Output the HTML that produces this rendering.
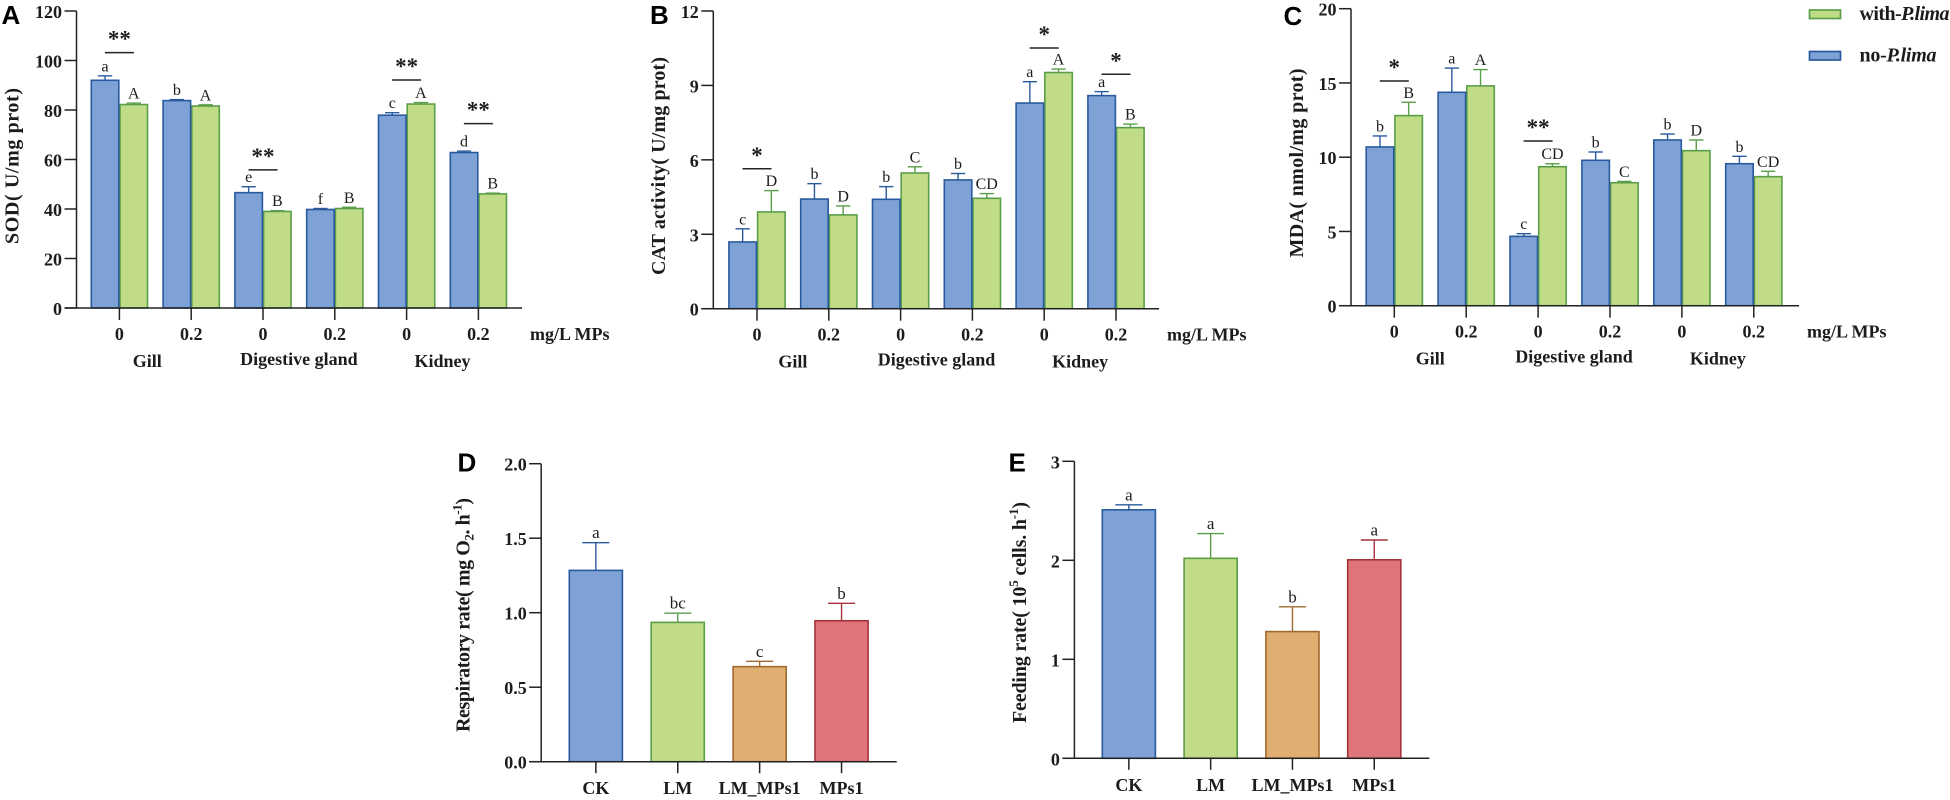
<!DOCTYPE html>
<html lang="en">
<head>
<meta charset="utf-8">
<title>Biochemical and physiological responses</title>
<style>
html,body{margin:0;padding:0;background:#fff;width:1950px;height:800px;overflow:hidden}
svg{display:block}
text{font-family:"Liberation Serif",serif;fill:#1c1c1c}
.b{font-weight:700}
.panel{font-family:"Liberation Sans",sans-serif;font-weight:700;font-size:26px;fill:#000}
</style>
</head>
<body>
<svg id="figure" xmlns="http://www.w3.org/2000/svg" width="1950" height="800" viewBox="0 0 1950 800">
  <g>
    <rect x="1809.5" y="10" width="31" height="8.5" fill="#c0dc86" stroke="#5b9e4a" stroke-width="1.7"/>
    <text class="b" x="1859.5" y="20" font-size="20" textLength="90">with-<tspan font-style="italic">P.lima</tspan></text>
    <rect x="1809.5" y="51.5" width="31" height="8.5" fill="#7ea2d5" stroke="#2a5a9e" stroke-width="1.7"/>
    <text class="b" x="1859.5" y="61.5" font-size="20" textLength="77">no-<tspan font-style="italic">P.lima</tspan></text>
  </g>
  <text class="panel" x="1.5" y="24">A</text>
  <text class="panel" x="650" y="24">B</text>
  <text class="panel" x="1283.5" y="25">C</text>
  <text class="panel" x="457.5" y="471.5">D</text>
  <text class="panel" x="1008.5" y="471.5">E</text>
  <text class="b" font-size="20" transform="translate(18.5,244) rotate(-90)" textLength="156">SOD( U/mg prot)</text>
  <text class="b" font-size="20" transform="translate(665,275) rotate(-90)" textLength="218">CAT activity( U/mg prot)</text>
  <text class="b" font-size="20" transform="translate(1303,257.5) rotate(-90)" textLength="189">MDA( nmol/mg prot)</text>
  <text class="b" font-size="20" transform="translate(469.3,732) rotate(-90)" textLength="234">Respiratory rate( mg O<tspan font-size="13" dy="4">2</tspan><tspan dy="-4">. h</tspan><tspan font-size="13" dy="-8">-1</tspan><tspan dy="8">)</tspan></text>
  <text class="b" font-size="20" transform="translate(1026,723) rotate(-90)" textLength="221">Feeding rate( 10<tspan font-size="13" dy="-8">5</tspan><tspan dy="8"> cells. h</tspan><tspan font-size="13" dy="-8">-1</tspan><tspan dy="8">)</tspan></text>
</svg>
<script>
// Shared categories
const doseLabels = ['0', '0.2', '0', '0.2', '0', '0.2'];
const tissueLabels = ['Gill', 'Digestive gland', 'Kidney'];
const treatmentLabels = ['CK', 'LM', 'LM_MPs1', 'MPs1'];

// Panel A: SOD
const sodTicks = [0, 20, 40, 60, 80, 100, 120];
const sodNo = [92, 83.8, 46.6, 39.8, 77.9, 62.8];
const sodNoErr = [1.8, 0.4, 2.4, 0.4, 1.0, 0.6];
const sodNoLetters = ['a', 'b', 'e', 'f', 'c', 'd'];
const sodWith = [82.2, 81.6, 39.0, 40.2, 82.4, 46.1];
const sodWithErr = [0.6, 0.5, 0.3, 0.5, 0.6, 0.3];
const sodWithLetters = ['A', 'A', 'B', 'B', 'A', 'B'];
const sodSigGroups = [0, 2, 4, 5];
const sodSigValues = [103.2, 55.8, 92.1, 74.5];
const sodSigMarks = ['**', '**', '**', '**'];

// Panel B: CAT
const catTicks = [0, 3, 6, 9, 12];
const catNo = [2.69, 4.42, 4.41, 5.19, 8.29, 8.59];
const catNoErr = [0.53, 0.62, 0.51, 0.26, 0.86, 0.16];
const catNoLetters = ['c', 'b', 'b', 'b', 'a', 'a'];
const catWith = [3.9, 3.78, 5.47, 4.45, 9.52, 7.3];
const catWithErr = [0.86, 0.36, 0.25, 0.19, 0.14, 0.14];
const catWithLetters = ['D', 'D', 'C', 'CD', 'A', 'B'];
const catSigGroups = [0, 4, 5];
const catSigValues = [5.64, 10.51, 9.45];
const catSigMarks = ['*', '*', '*'];

// Panel C: MDA
const mdaTicks = [0, 5, 10, 15, 20];
const mdaNo = [10.69, 14.37, 4.67, 9.79, 11.16, 9.56];
const mdaNoErr = [0.74, 1.63, 0.18, 0.56, 0.40, 0.50];
const mdaNoLetters = ['b', 'a', 'c', 'b', 'b', 'b'];
const mdaWith = [12.8, 14.8, 9.36, 8.28, 10.44, 8.69];
const mdaWithErr = [0.9, 1.1, 0.2, 0.09, 0.72, 0.36];
const mdaWithLetters = ['B', 'A', 'CD', 'C', 'D', 'CD'];
const mdaSigGroups = [0, 2];
const mdaSigValues = [15.13, 11.09];
const mdaSigMarks = ['*', '**'];

// Panel D: respiratory rate
const respTickLabels = ['0.0', '0.5', '1.0', '1.5', '2.0'];
const respValues = [1.284, 0.935, 0.638, 0.946];
const respErr = [0.186, 0.062, 0.036, 0.117];
const respLetters = ['a', 'bc', 'c', 'b'];

// Panel E: feeding rate
const feedTickLabels = ['0', '1', '2', '3'];
const feedValues = [2.51, 2.02, 1.28, 2.005];
const feedErr = [0.05, 0.25, 0.25, 0.2];
const feedLetters = ['a', 'a', 'b', 'a'];

const NS = 'http://www.w3.org/2000/svg';
const root = document.getElementById('figure');
const BLUE = ['#7ea2d5', '#2a5a9e'];
const GREEN = ['#c0dc86', '#5b9e4a'];
const ORANGE = ['#dfae70', '#9e6a30'];
const RED = ['#df747a', '#a8323c'];
const AXIS = '#222';

function make(parent, tag, attrs, content) {
  const el = document.createElementNS(NS, tag);
  for (const k in attrs) el.setAttribute(k, attrs[k]);
  if (content !== undefined) el.textContent = content;
  parent.appendChild(el);
  return el;
}
function drawLine(parent, x1, y1, x2, y2, color, width, name) {
  const el = make(parent, 'line', {x1: x1, y1: y1, x2: x2, y2: y2, stroke: color, 'stroke-width': width});
  
  
  return el;
}
function drawText(parent, x, y, str, size, bold, anchor, name) {
  const el = make(parent, 'text', {x: x, y: y, 'font-size': size, 'text-anchor': anchor}, str);
  if (bold) el.setAttribute('class', 'b');
  
  
  return el;
}
function drawBar(parent, x, width, value, err, letter, colors, yScale, capWidth, letterSize, name) {
  const top = yScale(value), base = yScale(0), errTop = yScale(value + err), cx = x + width / 2;
  drawLine(parent, cx, top, cx, errTop, colors[1], 1.4, name + '-error-stem');
  drawLine(parent, cx - capWidth / 2, errTop, cx + capWidth / 2, errTop, colors[1], 1.4, name + '-error-cap');
  const bar = make(parent, 'rect', {x: x + 0.6, y: top, width: width - 1.2, height: base - top, fill: colors[0], stroke: colors[1], 'stroke-width': 1.6});
  
  
  drawText(parent, cx, errTop - 4.5, letter, letterSize, false, 'middle', name + '-letter');
}
function drawYAxis(parent, axisX, labels, values, yScale, axisEnd) {
  drawLine(parent, axisX, yScale(values[values.length - 1]), axisX, yScale(0), AXIS, 1.5, 'y-axis-line');
  labels.forEach(function (label, i) {
    const y = yScale(values[i]);
    drawLine(parent, axisX - 12, y, axisX, y, AXIS, 1.5, 'y-axis-tick');
    drawText(parent, axisX - 14.5, y + 7, label, 18, true, 'end', 'y-axis-tick-label');
  });
  drawLine(parent, axisX - 12, yScale(0), axisEnd, yScale(0), AXIS, 1.5, 'x-axis-line');
}

function groupedPanel(cfg) {
  const g = make(root, 'g', {});
  
  
  const yScale = function (v) { return cfg.y0 - (v / cfg.ticks[cfg.ticks.length - 1]) * (cfg.y0 - cfg.yTop); };
  const xBlue = function (i) { return cfg.x0 + i * cfg.step; };
  const tick = function (i) { return xBlue(i) + cfg.bw; };
  cfg.no.forEach(function (v, i) {
    drawBar(g, xBlue(i) + cfg.bw, cfg.bw, cfg.withV[i], cfg.withErr[i], cfg.withL[i], GREEN, yScale, 14.3, 16, 'bar-with-p-lima-' + i);
    drawBar(g, xBlue(i), cfg.bw, v, cfg.noErr[i], cfg.noL[i], BLUE, yScale, 14.3, 16, 'bar-no-p-lima-' + i);
  });
  drawYAxis(g, cfg.axisX, cfg.ticks.map(String), cfg.ticks, yScale, cfg.axisEnd);
  doseLabels.forEach(function (d, i) {
    drawLine(g, tick(i), cfg.y0, tick(i), cfg.y0 + 12, AXIS, 1.5, 'x-axis-tick');
    drawText(g, tick(i), cfg.y0 + 32, d, 18, true, 'middle', 'x-axis-tick-label');
  });
  drawText(g, cfg.axisEnd + 8, cfg.y0 + 32, 'mg/L MPs', 18, true, 'start', 'x-axis-unit-label');
  tissueLabels.forEach(function (t, k) {
    const c = (tick(k * 2) + tick(k * 2 + 1)) / 2 + (k === 0 ? cfg.gillShift : 0);
    drawText(g, c, cfg.y0 + (k === 1 ? 57 : 59), t, 18, true, 'middle', 'tissue-label');
  });
  cfg.sigGroups.forEach(function (grp, k) {
    const y = yScale(cfg.sigValues[k]);
    drawLine(g, tick(grp) - 14.5, y, tick(grp) + 14.5, y, '#222', 1.5, 'significance-line');
    drawText(g, tick(grp), y - 6, cfg.sigMarks[k], 23, true, 'middle', 'significance-stars');
  });
}

function singlePanel(cfg) {
  const g = make(root, 'g', {});
  
  
  const tickVals = cfg.tickLabels.map(Number);
  const yScale = function (v) { return cfg.y0 - (v / tickVals[tickVals.length - 1]) * (cfg.y0 - cfg.yTop); };
  const colors = [BLUE, GREEN, ORANGE, RED];
  cfg.values.forEach(function (v, i) {
    const x = cfg.x0 + i * cfg.step;
    drawBar(g, x, cfg.bw, v, cfg.err[i], cfg.letters[i], colors[i], yScale, 27, 17, 'bar-' + treatmentLabels[i].toLowerCase());
  });
  drawYAxis(g, cfg.axisX, cfg.tickLabels, tickVals, yScale, cfg.axisEnd);
  treatmentLabels.forEach(function (t, i) {
    const c = cfg.x0 + i * cfg.step + cfg.bw / 2;
    drawLine(g, c, cfg.y0, c, cfg.y0 + 11.5, AXIS, 1.5, 'x-axis-tick');
    drawText(g, c, cfg.y0 + 32.5, t, 18, true, 'middle', 'x-axis-tick-label');
  });
}

groupedPanel({name: 'panel-a-sod', x0: 90.7, step: 71.8, bw: 28.7, axisX: 76.5, axisEnd: 522, y0: 308, yTop: 11, gillShift: -8,
  ticks: sodTicks, no: sodNo, noErr: sodNoErr, noL: sodNoLetters, withV: sodWith, withErr: sodWithErr, withL: sodWithLetters,
  sigGroups: sodSigGroups, sigValues: sodSigValues, sigMarks: sodSigMarks});
groupedPanel({name: 'panel-b-cat', x0: 728.3, step: 71.8, bw: 28.7, axisX: 713.3, axisEnd: 1159, y0: 308.7, yTop: 11, gillShift: 0,
  ticks: catTicks, no: catNo, noErr: catNoErr, noL: catNoLetters, withV: catWith, withErr: catWithErr, withL: catWithLetters,
  sigGroups: catSigGroups, sigValues: catSigValues, sigMarks: catSigMarks});
groupedPanel({name: 'panel-c-mda', x0: 1365.6, step: 71.9, bw: 28.7, axisX: 1351, axisEnd: 1799, y0: 305.7, yTop: 8.7, gillShift: 0,
  ticks: mdaTicks, no: mdaNo, noErr: mdaNoErr, noL: mdaNoLetters, withV: mdaWith, withErr: mdaWithErr, withL: mdaWithLetters,
  sigGroups: mdaSigGroups, sigValues: mdaSigValues, sigMarks: mdaSigMarks});
singlePanel({name: 'panel-d-respiratory-rate', x0: 568.7, step: 81.9, bw: 54.3, axisX: 541.2, axisEnd: 896.7, y0: 761.7, yTop: 463.7,
  tickLabels: respTickLabels, values: respValues, err: respErr, letters: respLetters});
singlePanel({name: 'panel-e-feeding-rate', x0: 1101.7, step: 81.8, bw: 54.3, axisX: 1074.4, axisEnd: 1429.3, y0: 758.3, yTop: 461.3,
  tickLabels: feedTickLabels, values: feedValues, err: feedErr, letters: feedLetters});
</script>
</body>
</html>
